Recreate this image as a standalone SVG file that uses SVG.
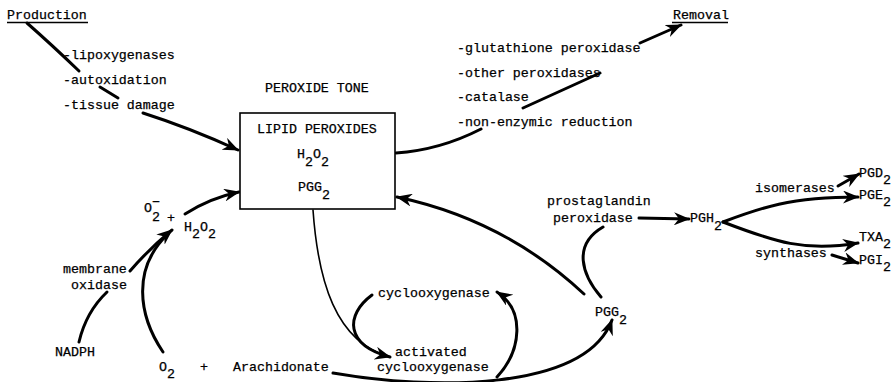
<svg xmlns="http://www.w3.org/2000/svg" width="893" height="382" viewBox="0 0 893 382">
<style>
.t{font-family:"Liberation Mono","Courier New",monospace;font-size:13.3px;fill:#000;stroke:#000;stroke-width:0.25}
.c{fill:none;stroke:#000;stroke-width:3;stroke-linecap:round;stroke-linejoin:round}
.thin{stroke-width:1.6}
.box{fill:#fff;stroke:#000;stroke-width:1.6}
.ul{stroke:#000;stroke-width:1.3}
</style>
<defs>
<marker id="ah" markerUnits="userSpaceOnUse" markerWidth="16" markerHeight="13" refX="15" refY="6.5" orient="auto" viewBox="0 0 16 13">
<path d="M0,0 L16,6.5 L0,13 L5,6.5 z" fill="#000"/>
</marker>
</defs>
<rect width="893" height="382" fill="#fff"/>

<g id="connectors">
<path class="c" d="M27,23 Q52,45 79,71 M100,87 L118,98 M143,113 Q190,128 238,150" marker-end="url(#ah)"/>
<path class="c" d="M396,153 Q440,150 481,129 M523,108 L600,73 M640,43 L681,25" marker-end="url(#ah)"/>
<path class="c" d="M185,214 Q210,198 239,192" marker-end="url(#ah)"/>
<path class="c" d="M79,342 Q86,312 107,292"/>
<path class="c" d="M130,271 Q148,250 172,230" marker-end="url(#ah)"/>
<path class="c" d="M163,352 C138,315 132,268 168,234"/>
<path class="c thin" d="M313,210 C318,280 335,342 390,357"/>
<path class="c" d="M372,295 C345,315 345,345 390,357" marker-end="url(#ah)"/>
<path class="c" d="M333,373 C430,390 585,392 612,320" marker-end="url(#ah)"/>
<path class="c" d="M497,377 C522,350 525,310 497,292" marker-end="url(#ah)"/>
<path class="c" d="M584,294 Q505,220 397,197" marker-end="url(#ah)"/>
<path class="c" d="M601,297 C582,275 572,245 603,227"/>
<path class="c" d="M639,218 L689,219" marker-end="url(#ah)"/>
<path class="c" d="M723,222 C760,208 790,197 858,197" marker-end="url(#ah)"/>
<path class="c" d="M723,222 C775,242 805,252 858,243" marker-end="url(#ah)"/>
<path class="c" d="M838,186 L859,174" marker-end="url(#ah)"/>
<path class="c" d="M832,255 L858,263" marker-end="url(#ah)"/>
</g>

<g id="production">
<text class="t" x="7" y="19">Production</text>
<line class="ul" x1="7" y1="22.5" x2="88" y2="22.5"/>
<text class="t" x="63" y="59">-lipoxygenases</text>
<text class="t" x="63" y="84">-autoxidation</text>
<text class="t" x="63" y="109">-tissue damage</text>
</g>

<g id="peroxide-tone">
<text class="t" x="265" y="92">PEROXIDE TONE</text>
<rect class="box" x="240" y="113" width="155" height="96"/>
<text class="t" x="257" y="133">LIPID PEROXIDES</text>
<text class="t" x="297" y="158">H<tspan dy="8">2</tspan><tspan dy="-8">O</tspan><tspan dy="8">2</tspan></text>
<text class="t" x="298" y="191">PGG<tspan dy="8">2</tspan></text>
</g>

<g id="removal">
<text class="t" x="673" y="19">Removal</text>
<line class="ul" x1="672" y1="22.5" x2="728" y2="22.5"/>
<text class="t" x="457" y="52">-glutathione peroxidase</text>
<text class="t" x="457" y="77">-other peroxidases</text>
<text class="t" x="457" y="101">-catalase</text>
<text class="t" x="457" y="126">-non-enzymic reduction</text>
</g>

<g id="superoxide">
<text class="t" x="144" y="212">O<tspan x="152" dy="9">2</tspan><tspan x="152" y="206">−</tspan></text>
<text class="t" x="167" y="222">+</text>
<text class="t" x="184" y="231">H<tspan dy="7">2</tspan><tspan dy="-7">O</tspan><tspan dy="7">2</tspan></text>
</g>

<g id="membrane-oxidase">
<text class="t" x="63" y="273">membrane</text>
<text class="t" x="71" y="289">oxidase</text>
</g>

<g id="nadph">
<text class="t" x="55" y="356">NADPH</text>
</g>

<g id="substrates">
<text class="t" x="159" y="371">O<tspan dy="7">2</tspan></text>
<text class="t" x="200" y="371">+</text>
<text class="t" x="233" y="371">Arachidonate</text>
</g>

<g id="cyclooxygenase">
<text class="t" x="378" y="297">cyclooxygenase</text>
</g>

<g id="activated-cyclooxygenase">
<text class="t" x="395" y="356">activated</text>
<text class="t" x="377" y="371">cyclooxygenase</text>
</g>

<g id="pgg2">
<text class="t" x="595" y="316">PGG<tspan dy="8">2</tspan></text>
</g>

<g id="prostaglandin-peroxidase">
<text class="t" x="547" y="205">prostaglandin</text>
<text class="t" x="553" y="222">peroxidase</text>
</g>

<g id="pgh2">
<text class="t" x="690" y="222">PGH<tspan dy="8">2</tspan></text>
</g>

<g id="isomerases">
<text class="t" x="755" y="192">isomerases</text>
</g>

<g id="synthases">
<text class="t" x="755" y="257">synthases</text>
</g>

<g id="pgd2"><text class="t" x="859" y="177">PGD<tspan dy="7">2</tspan></text></g>
<g id="pge2"><text class="t" x="859" y="199">PGE<tspan dy="7">2</tspan></text></g>
<g id="txa2"><text class="t" x="859" y="241">TXA<tspan dy="7">2</tspan></text></g>
<g id="pgi2"><text class="t" x="859" y="264">PGI<tspan dy="7">2</tspan></text></g>
</svg>
